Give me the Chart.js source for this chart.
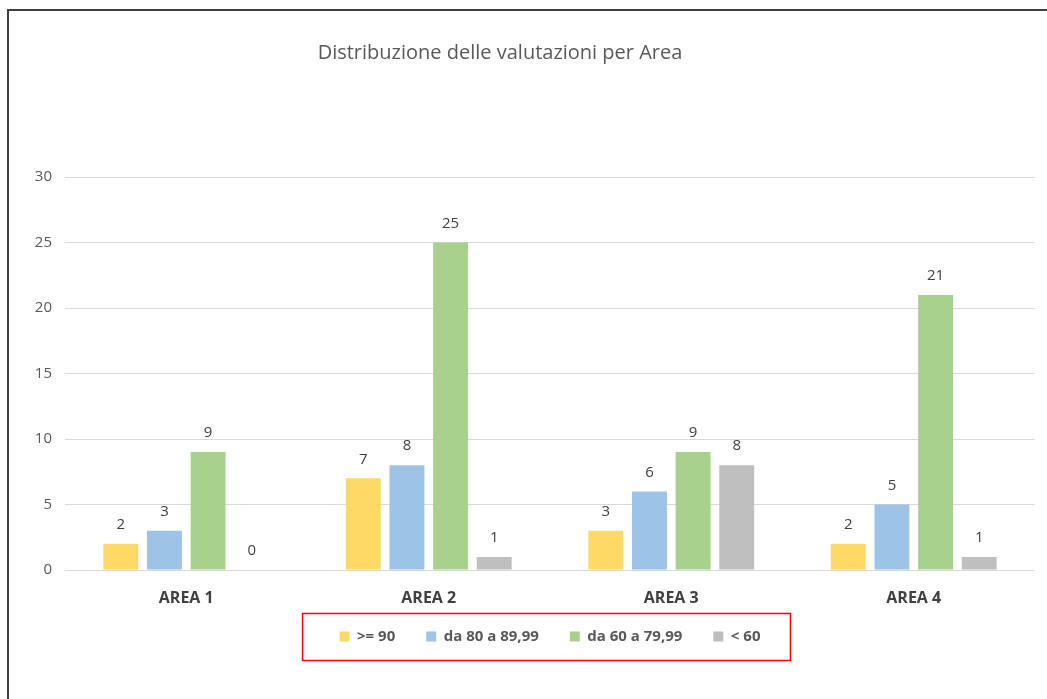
<!DOCTYPE html>
<html>
<head>
<meta charset="utf-8">
<script src="https://cdn.jsdelivr.net/npm/chart.js@4/dist/chart.umd.min.js"></script>
<style>
  body { margin: 0; background: #fff; }
  #wrap { position: relative; width: 1047px; height: 699px; }
  #frame { position: absolute; left: 7px; top: 9px; right: -5px; bottom: -5px; border-left: 2px solid #404040; border-top: 2px solid #404040; }
  canvas { position: absolute; left: 0; top: 0; }
</style>
</head>
<body>
<div id="wrap">
  <div id="frame"></div>
  <canvas id="grafico" width="1047" height="699"></canvas>
</div>
<script>
// Dati del grafico
const titolo = 'Distribuzione delle valutazioni per Area';
const aree = ['AREA 1', 'AREA 2', 'AREA 3', 'AREA 4'];
const fasce = ['>= 90', 'da 80 a 89,99', 'da 60 a 79,99', '< 60'];
const sopra90 = [2, 7, 3, 2];
const da80a89 = [3, 8, 6, 5];
const da60a79 = [9, 25, 9, 21];
const sotto60 = [0, 1, 8, 1];
const colori = ['#FFD966', '#9DC3E6', '#A9D18E', '#BFBFBF'];

const FONT = "'Open Sans', 'Noto Sans', sans-serif";

// Etichette dei valori, etichette delle aree, titolo e riquadro rosso della legenda
const pluginExtra = {
    id: 'pluginExtra',
    afterDatasetsDraw(chart) {
        const ctx = chart.ctx;
        ctx.save();
        ctx.font = '15px ' + FONT;
        ctx.fillStyle = '#404040';
        ctx.textAlign = 'center';
        ctx.textBaseline = 'middle';
        chart.data.datasets.forEach((ds, i) => {
            chart.getDatasetMeta(i).data.forEach((bar, j) => {
                ctx.fillText(ds.data[j], bar.x, bar.y - 19);
            });
        });
        ctx.restore();
    },
    afterDraw(chart) {
        const ctx = chart.ctx;
        ctx.save();
        ctx.textAlign = 'center';
        ctx.textBaseline = 'middle';
        // etichette asse x (disegnate qui per non essere tagliate dalla legenda)
        const sx = chart.scales.x;
        ctx.font = 'bold 16px ' + FONT;
        ctx.fillStyle = '#404040';
        aree.forEach((a, i) => {
            ctx.fillText(a, sx.getPixelForTick(i), sx.top + 28);
        });
        // titolo
        ctx.font = '20px ' + FONT;
        ctx.fillStyle = '#595959';
        ctx.fillText(titolo, 500, 53);
        // riquadro legenda
        const boxes = chart.legend.legendHitBoxes;
        if (boxes && boxes.length) {
            const x0 = Math.min(...boxes.map(b => b.left)) - 37;
            const x1 = Math.max(...boxes.map(b => b.left + b.width)) + 30;
            const cy = boxes[0].top + boxes[0].height / 2;
            ctx.strokeStyle = '#FF0000';
            ctx.lineWidth = 1.5;
            ctx.strokeRect(x0, cy - 23, x1 - x0, 47);
        }
        ctx.restore();
    }
};

const serie = [sopra90, da80a89, da60a79, sotto60];

new Chart(document.getElementById('grafico').getContext('2d'), {
    type: 'bar',
    data: {
        labels: aree,
        datasets: serie.map((valori, i) => ({
            label: fasce[i],
            data: valori,
            backgroundColor: colori[i],
            categoryPercentage: 0.72,
            barPercentage: 0.8
        }))
    },
    options: {
        responsive: false,
        animation: false,
        layout: {
            padding: { top: 177, right: 12, bottom: 45, left: 0 }
        },
        scales: {
            y: {
                min: 0,
                max: 30,
                ticks: {
                    stepSize: 5,
                    padding: 13,
                    color: '#595959',
                    font: { family: FONT, size: 15 }
                },
                grid: { color: '#D9D9D9', drawTicks: false },
                border: { display: false },
                afterFit(scale) { scale.width = 65; }
            },
            x: {
                ticks: { display: false },
                grid: { display: false, drawTicks: false },
                border: { display: false },
                afterFit(scale) { scale.height = 28; }
            }
        },
        plugins: {
            title: { display: false },
            tooltip: { enabled: false },
            legend: {
                position: 'bottom',
                fullSize: false,
                labels: {
                    boxWidth: 10,
                    boxHeight: 10,
                    padding: 31,
                    color: '#595959',
                    font: { family: FONT, size: 15, weight: 'bold' }
                }
            }
        }
    },
    plugins: [pluginExtra]
});
</script>
</body>
</html>
